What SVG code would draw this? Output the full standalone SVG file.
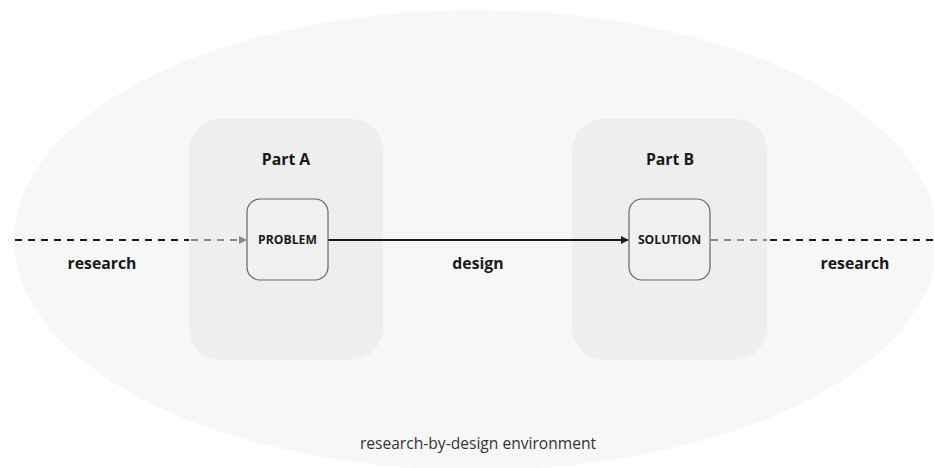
<svg xmlns="http://www.w3.org/2000/svg" width="934" height="468" viewBox="0 0 934 468">
  <style>
    .part { fill: #eeeeee; }
    .node rect { fill: #f0f0f0; stroke: #666666; stroke-width: 1.2; }
    .lbl { font-family: "Open Sans", "Noto Sans", sans-serif; font-weight: 700; fill: #1a1a1a; text-anchor: middle; }
    .big { font-size: 15.8px; }
    .small { font-size: 12.2px; }
    .env { font-family: "Open Sans", "Noto Sans", sans-serif; font-size: 15.6px; fill: #333333; text-anchor: middle; }
    .dash-dark { stroke: #1a1a1a; stroke-width: 2; stroke-dasharray: 7 6; fill: none; }
    .dash-grey { stroke: #888888; stroke-width: 2; stroke-dasharray: 7 6; fill: none; }
    .solid { stroke: #1a1a1a; stroke-width: 2; fill: none; }
  </style>
  <defs>
    <marker id="arrowDark" viewBox="0 0 10 10" refX="9" refY="5" markerWidth="4" markerHeight="4" orient="auto">
      <path d="M0,0 L10,5 L0,10 z" fill="#1a1a1a"/>
    </marker>
    <marker id="arrowGrey" viewBox="0 0 10 10" refX="9" refY="5" markerWidth="4" markerHeight="4" orient="auto">
      <path d="M0,0 L10,5 L0,10 z" fill="#888888"/>
    </marker>
  </defs>
  <rect width="934" height="468" fill="#ffffff"/>

  <!-- environment -->
  <g id="environment">
    <ellipse cx="476" cy="240" rx="462" ry="230" fill="#f7f7f7"/>
    <text class="env" x="478" y="449">research-by-design environment</text>
  </g>

  <!-- containers -->
  <g id="partA">
    <rect class="part" x="189" y="119" width="194" height="241" rx="32"/>
    <text class="lbl big" x="286" y="165">Part A</text>
  </g>
  <g id="partB">
    <rect class="part" x="572" y="119" width="195" height="241" rx="32"/>
    <text class="lbl big" x="670" y="165">Part B</text>
  </g>

  <!-- connectors -->
  <g id="connectors">
    <line class="dash-dark" x1="15" y1="240" x2="189" y2="240"/>
    <line class="dash-grey" x1="191" y1="240" x2="246" y2="240" marker-end="url(#arrowGrey)"/>
    <line class="solid" x1="328" y1="240" x2="628" y2="240" marker-end="url(#arrowDark)"/>
    <line class="dash-grey" x1="711" y1="240" x2="767" y2="240"/>
    <line class="dash-dark" x1="770" y1="240" x2="934" y2="240"/>
    <text class="lbl big" x="102" y="269">research</text>
    <text class="lbl big" x="478" y="269">design</text>
    <text class="lbl big" x="855" y="269">research</text>
  </g>

  <!-- nodes -->
  <g id="problem" class="node">
    <rect x="247" y="199" width="81" height="81" rx="13"/>
    <text class="lbl small" x="287.5" y="244">PROBLEM</text>
  </g>
  <g id="solution" class="node">
    <rect x="629" y="199" width="81" height="81" rx="13"/>
    <text class="lbl small" x="669.5" y="244">SOLUTION</text>
  </g>
</svg>
